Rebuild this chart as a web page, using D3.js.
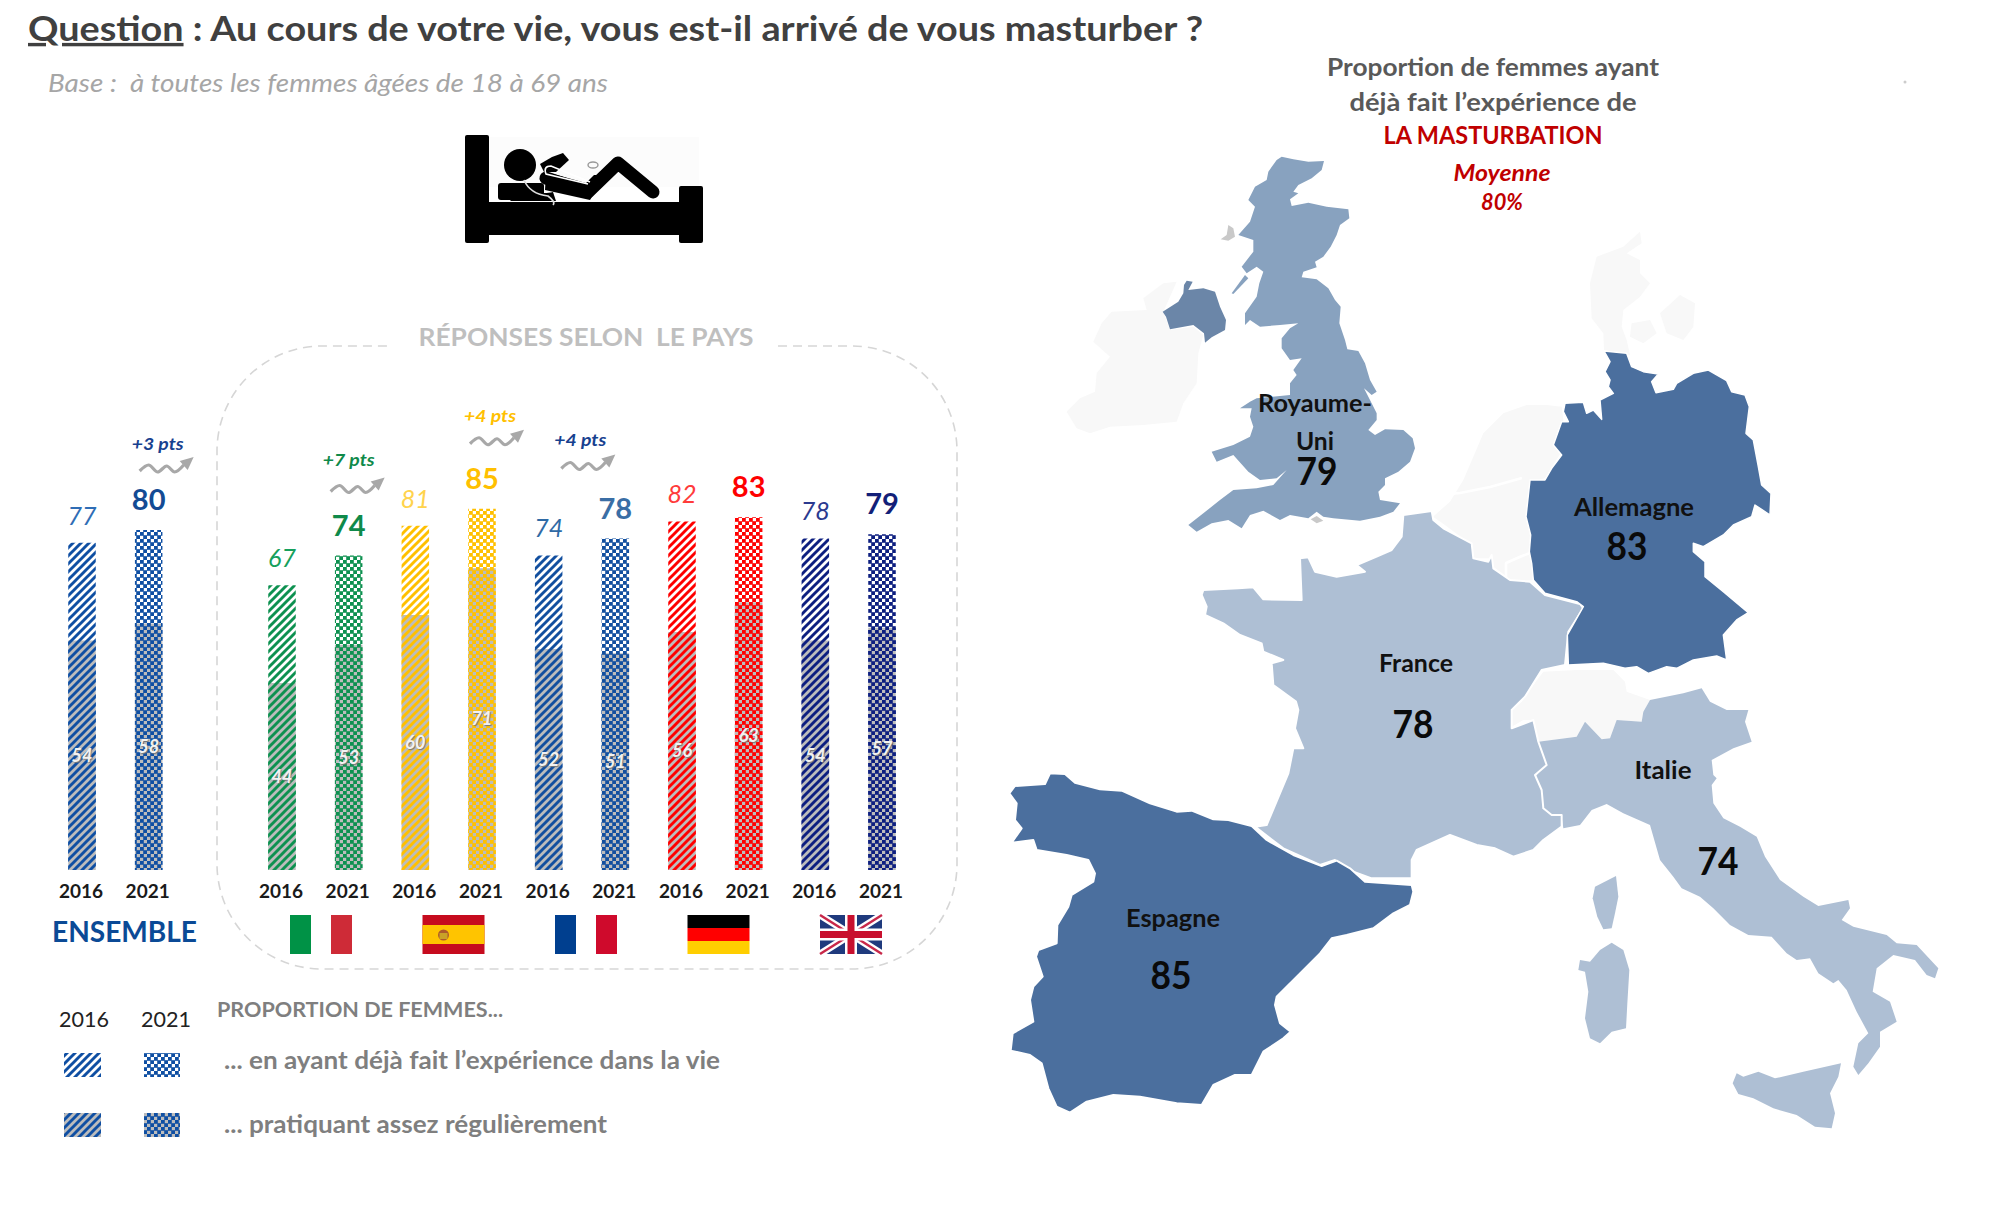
<!DOCTYPE html>
<html lang="fr">
<head>
<meta charset="utf-8">
<title>Masturbation féminine en Europe</title>
<script src="https://cdn.jsdelivr.net/npm/d3@7/dist/d3.min.js"></script>
<style>
html,body{margin:0;padding:0;background:#fff;}
svg{display:block;}
text{font-family:Lato,"Open Sans",sans-serif;white-space:pre;}
</style>
</head>
<body>
<svg id="c" width="1994" height="1208"></svg>
<script>
// ---------- data ----------
const groups      = ["ENSEMBLE","Italie","Espagne","France","Allemagne","Royaume-Uni"];
const years       = ["2016","2021"];
const everDone2016 = [77,67,81,74,82,78];
const everDone2021 = [80,74,85,78,83,79];
const regular2016  = [54,44,60,52,56,54];
const regular2021  = [58,53,71,51,63,57];
const deltaLabels  = ["+3 pts","+7 pts","+4 pts","+4 pts",null,null];
const mapCountries = ["Royaume-Uni","Allemagne","France","Espagne","Italie"];
const mapValues    = [79,83,78,85,74];

// ---------- styles and placement ----------
const barColors   = ["#0f4fa3","#0d9150","#ffc000","#124f9f","#ff0000","#0d1f80"];
const label2016   = ["#2f6db5","#16a05c","#ffd34d","#2f6aa5","#ff3b3b","#2b3a8f"];
const label2021   = ["#134b94","#0f8a4a","#ffc000","#3a6ea5","#ff0000","#131f78"];
const deltaColors = ["#17418f","#0f8a4a","#ffc000","#17418f",null,null];
const deltaPlace  = [[9,-86,-9,-73],[0,-95,-18,-78],[8,-93,-12,-79],[-35,-98,-54,-84],null,null];
const MAP_LIGHT="#aebfd4", MAP_MID="#88a2bf", MAP_DARK="#4b6f9e", MAP_NONE="#f8f8f8";

const svg = d3.select("#c");
const defs = svg.append("defs");

// ---------- scales ----------
const slots = ["ENSEMBLE|2016","ENSEMBLE|2021","gap"];
groups.slice(1).forEach(g=>years.forEach(y=>slots.push(g+"|"+y)));
const x = d3.scalePoint().domain(slots).range([82,882]);
const y = d3.scaleLinear().domain([0,100]).range([870,445]);
const flagX = d3.scalePoint().domain(groups.slice(1)).range([321,851]);
const barW = 27.5;
const mapFill = d3.scaleThreshold().domain([79,83]).range([MAP_LIGHT,MAP_MID,MAP_DARK]);

// ---------- patterns ----------
function makePattern(id,color,bg,kind){
  const s = kind==="2016"?8:7;
  const p = defs.append("pattern").attr("id",id).attr("patternUnits","userSpaceOnUse").attr("width",s).attr("height",s);
  p.append("rect").attr("width",s).attr("height",s).attr("fill",bg);
  if(kind==="2016"){
    p.append("path").attr("d","M-2,2 L2,-2 M-2,10 L10,-2 M6,10 L10,6").attr("stroke",color).attr("stroke-width",2.9);
  } else {
    p.append("rect").attr("x",-.3).attr("y",-.3).attr("width",4.1).attr("height",4.1).attr("fill",color);
    p.append("rect").attr("x",3.2).attr("y",3.2).attr("width",4.1).attr("height",4.1).attr("fill",color);
  }
}
barColors.forEach((c,i)=>years.forEach(k=>{
  makePattern(`p${i}${k}w`,c,"#ffffff",k);
  makePattern(`p${i}${k}g`,c,"#bcbcbc",k);
}));

// ---------- header ----------
function txt(t,xp,yp,o={}){
  const e = svg.append("text").attr("x",xp).attr("y",yp).attr("dy",".35em")
    .attr("text-anchor",o.anchor||"middle").attr("font-size",o.size||20)
    .attr("font-weight",o.weight||400).attr("font-style",o.italic?"italic":"normal")
    .attr("fill",o.fill||"#000").text(t);
  if(o.len){e.attr("textLength",o.len).attr("lengthAdjust","spacingAndGlyphs");}
  if(o.shadow){e.style("text-shadow",o.shadow);}
  return e;
}
const title = svg.append("text").attr("x",28).attr("y",29).attr("dy",".35em").attr("font-size",34).attr("font-weight",700).attr("fill","#404040")
  .attr("textLength",1175).attr("lengthAdjust","spacingAndGlyphs");
title.append("tspan").attr("text-decoration","underline").text("Question");
title.append("tspan").text(" : Au cours de votre vie, vous est-il arrivé de vous masturber ?");
txt("Base :  à toutes les femmes âgées de 18 à 69 ans",48,83,{anchor:"start",size:26,italic:true,fill:"#a6a6a6",len:560});

// ---------- bed pictogram ----------
const bed = svg.append("g");
bed.append("rect").attr("x",489).attr("y",137).attr("width",210).attr("height",50).attr("fill","#fcfcfc");
bed.append("rect").attr("x",465).attr("y",135).attr("width",24).attr("height",108).attr("rx",2);
bed.append("rect").attr("x",679).attr("y",186).attr("width",24).attr("height",57).attr("rx",2);
bed.append("rect").attr("x",485).attr("y",202).attr("width",200).attr("height",33);
bed.append("circle").attr("cx",520).attr("cy",165).attr("r",16);
bed.append("rect").attr("x",498).attr("y",183).attr("width",46).attr("height",17).attr("rx",3);
bed.append("path").attr("d","M546,178 L588,192 L618,163 L653,192").attr("fill","none").attr("stroke","#000").attr("stroke-width",13).attr("stroke-linecap","round").attr("stroke-linejoin","round");
bed.append("path").attr("d","M524,186 C532,186 534,196 553,192 L556,201 L510,201 Z").attr("fill","#000");
bed.append("path").attr("d","M546,172 L586,183 L594,175 L606,175 L590,200 L545,190 Z").attr("fill","#000");
bed.append("path").attr("d","M540,164 L552,157 L563,153 L569,160 L556,172 L544,172 Z").attr("fill","#000");
bed.append("path").attr("d","M590,182 L551,166 Q543,166 546,174 L588,184").attr("fill","none").attr("stroke","#fff").attr("stroke-width",1.6);
bed.append("path").attr("d","M524,180 Q530,194 548,196 Q556,202 553,205").attr("fill","none").attr("stroke","#ddd").attr("stroke-width",1.6);
bed.append("ellipse").attr("cx",593).attr("cy",165).attr("rx",5).attr("ry",3).attr("fill","none").attr("stroke","#999").attr("stroke-width",1.4);

// ---------- dashed frame ----------
const fr = d3.path(); const L=217,R=957,T=346,B=969,Ra=105;
fr.moveTo(778,T); fr.lineTo(R-Ra,T); fr.arcTo(R,T,R,T+Ra,Ra); fr.lineTo(R,B-Ra); fr.arcTo(R,B,R-Ra,B,Ra);
fr.lineTo(L+Ra,B); fr.arcTo(L,B,L,B-Ra,Ra); fr.lineTo(L,T+Ra); fr.arcTo(L,T,L+Ra,T,Ra); fr.lineTo(390,T);
svg.append("path").attr("d",fr.toString()).attr("fill","none").attr("stroke","#d6d6d6").attr("stroke-width",1.6).attr("stroke-dasharray","9 6");
txt("RÉPONSES SELON  LE PAYS",586,337,{size:25,weight:700,fill:"#bfbfbf",len:335});

// ---------- bars ----------
const rows = [];
groups.forEach((g,i)=>{
  rows.push({g,i,year:"2016",ever:everDone2016[i],reg:regular2016[i]});
  rows.push({g,i,year:"2021",ever:everDone2021[i],reg:regular2021[i]});
});
const bars = svg.append("g").selectAll("g").data(rows).join("g");
bars.append("rect").attr("x",d=>x(d.g+"|"+d.year)-barW/2).attr("width",barW)
  .attr("y",d=>y(d.ever)).attr("height",d=>y(0)-y(d.ever))
  .attr("fill",d=>`url(#p${d.i}${d.year}w)`);
bars.append("rect").attr("x",d=>x(d.g+"|"+d.year)-barW/2).attr("width",barW)
  .attr("y",d=>y(d.reg)).attr("height",d=>y(0)-y(d.reg))
  .attr("fill",d=>`url(#p${d.i}${d.year}g)`);
rows.forEach(d=>{
  const cx = x(d.g+"|"+d.year);
  if(d.year==="2016") txt(d.ever,cx,y(d.ever)-27,{size:25,italic:true,fill:label2016[d.i]});
  else txt(d.ever,cx,y(d.ever)-30,{size:29,weight:700,fill:label2021[d.i]});
  txt(d.reg,cx,(y(0)+y(d.reg))/2,{size:18,weight:700,italic:true,fill:"#f2f2f2",shadow:"1px 1px 1px #777"});
  txt(d.year,cx-1,891,{size:19,weight:700,fill:"#1a1a1a"});
});

// ---------- growth arrows ----------
const wave = d3.line().curve(d3.curveMonotoneX);
const waveShape = [[0,14],[9,8],[18,15],[27,9],[35,15],[44,8]];
groups.forEach((g,i)=>{
  if(!deltaLabels[i]) return;
  const [dx,dy,ax,ay] = deltaPlace[i];
  const cx = x(g+"|2021"), top = y(everDone2021[i]);
  txt(deltaLabels[i],cx+dx,top+dy,{size:17,weight:700,italic:true,fill:deltaColors[i],len:52});
  const a = svg.append("g").attr("transform",`translate(${cx+ax},${top+ay})`);
  a.append("path").attr("d",wave(waveShape)).attr("fill","none").attr("stroke","#a8a8a8").attr("stroke-width",3.2);
  a.append("path").attr("d","M40,4 L54,0 L48,13 Z").attr("fill","#a8a8a8");
});

// ---------- flags ----------
const flagW=62, flagH=39, flagY=915;
function flag(name,draw){
  const g = svg.append("g").attr("transform",`translate(${flagX(name)-flagW/2},${flagY})`);
  draw(g);
}
const r=(g,a,b,w,h,f)=>g.append("rect").attr("x",a).attr("y",b).attr("width",w).attr("height",h).attr("fill",f);
flag("Italie",g=>{r(g,0,0,21,flagH,"#009246");r(g,41,0,21,flagH,"#ce2b37");});
flag("Espagne",g=>{r(g,0,0,flagW,flagH,"#c60b1e");r(g,0,10,flagW,19,"#ffc400");
  g.append("circle").attr("cx",21).attr("cy",20).attr("r",5.5).attr("fill","#ad5a2a");
  r(g,17,18,8,6,"#c9a227");});
flag("France",g=>{r(g,0,0,21,flagH,"#003f8f");r(g,41,0,21,flagH,"#cf0a2c");});
flag("Allemagne",g=>{r(g,0,0,flagW,13,"#000");r(g,0,13,flagW,13,"#ff0000");r(g,0,26,flagW,13,"#ffce00");});
flag("Royaume-Uni",g=>{
  r(g,0,0,flagW,flagH,"#1f3a7d");
  const diag=`M0,0 L${flagW},${flagH} M${flagW},0 L0,${flagH}`;
  g.append("path").attr("d",diag).attr("stroke","#fff").attr("stroke-width",7);
  g.append("path").attr("d",diag).attr("stroke","#c8284a").attr("stroke-width",2.5);
  r(g,flagW/2-6,0,12,flagH,"#fff");r(g,0,flagH/2-6,flagW,12,"#fff");
  r(g,flagW/2-3.5,0,7,flagH,"#c8102e");r(g,0,flagH/2-3.5,flagW,7,"#c8102e");
});
txt("ENSEMBLE",124.5,932,{size:29,weight:700,fill:"#0b4a96",len:145});

// ---------- legend ----------
txt("2016",84,1019,{size:22,fill:"#222",len:50});
txt("2021",166,1019,{size:22,fill:"#222",len:50});
txt("PROPORTION DE FEMMES...",217,1010,{anchor:"start",size:21,weight:700,fill:"#7f7f7f",len:286});
txt("... en ayant déjà fait l’expérience dans la vie",224,1061,{anchor:"start",size:24,weight:700,fill:"#7f7f7f",len:496});
txt("... pratiquant assez régulièrement",224,1125,{anchor:"start",size:24,weight:700,fill:"#7f7f7f",len:383});
[["w",1053],["g",1113]].forEach(([k,ty])=>{
  svg.append("rect").attr("x",64).attr("y",ty).attr("width",37).attr("height",24).attr("fill",`url(#p02016${k})`);
  svg.append("rect").attr("x",144).attr("y",ty).attr("width",36).attr("height",24).attr("fill",`url(#p02021${k})`);
});

// ---------- map heading ----------
txt("Proportion de femmes ayant",1493,67,{size:25,weight:700,fill:"#595959",len:332});
txt("déjà fait l’expérience de",1493,102,{size:25,weight:700,fill:"#595959",len:287});
txt("LA MASTURBATION",1493,135,{size:25,weight:700,fill:"#c00000",len:219});
txt("Moyenne",1502,173,{size:22,weight:700,italic:true,fill:"#c00000",len:97});
txt("80%",1502,202,{size:22,weight:700,italic:true,fill:"#c00000",len:42});
svg.append("circle").attr("cx",1905).attr("cy",82).attr("r",1.5).attr("fill","#ccc");

const crops = {uk:[1060,150],de:[1440,230],fr:[1190,500],es:[1000,760],it:[1510,670]};
const shape = (crop,pts)=>{
  const sx = d3.scaleLinear().domain([0,3]).range([crops[crop][0],crops[crop][0]+1]);
  const sy = d3.scaleLinear().domain([0,3]).range([crops[crop][1],crops[crop][1]+1]);
  return d3.line().x(p=>sx(p[0])).y(p=>sy(p[1])).curve(d3.curveLinearClosed)(pts);
};
const ukMain=[[665,20],[700,28],[745,35],[792,33],[785,60],[755,85],[715,105],[700,125],[715,130],[690,148],[695,168],[745,158],[800,170],[865,178],[868,205],[840,225],[830,255],[812,290],[790,320],[765,335],[770,352],[730,365],[725,382],[770,388],[805,415],[825,450],[842,470],[838,520],[855,570],[862,598],[895,603],[915,640],[930,690],[950,725],[935,735],[912,715],[935,760],[950,790],[950,810],[925,840],[945,855],[975,838],[1030,840],[1058,865],[1065,895],[1050,935],[1015,965],[975,985],[975,1005],[955,1025],[960,1050],[1020,1060],[1000,1085],[960,1100],[900,1112],[820,1105],[790,1100],[770,1085],[745,1105],[690,1095],[660,1110],[610,1082],[570,1095],[545,1135],[505,1110],[455,1120],[410,1145],[385,1125],[430,1090],[480,1050],[520,1020],[590,1015],[640,1005],[680,960],[650,985],[600,990],[565,965],[520,915],[470,935],[455,905],[520,885],[570,860],[580,830],[570,800],[575,775],[540,775],[570,755],[590,745],[690,735],[690,700],[710,675],[700,660],[725,625],[690,630],[665,595],[665,565],[690,535],[715,520],[660,525],[600,530],[570,510],[555,525],[555,490],[590,440],[598,400],[610,365],[590,350],[560,370],[545,350],[580,305],[580,270],[535,255],[570,215],[585,170],[565,150],[585,110],[620,90],[625,65],[650,30]];
const kintyre=[[515,430],[555,375],[565,385],[520,432]];
const northIreland=[[380,392],[398,395],[385,420],[430,415],[465,425],[480,470],[498,510],[495,540],[455,562],[435,578],[432,550],[400,525],[330,538],[318,500],[308,485],[355,455],[370,430],[372,405]];
const ireland=[[100,575],[125,520],[155,485],[260,480],[250,445],[310,400],[350,395],[310,485],[330,540],[400,530],[430,555],[415,610],[410,700],[370,760],[350,815],[250,825],[150,830],[90,850],[50,835],[20,785],[60,745],[105,725],[110,670],[150,620]];
const hebrides=[[505,225],[520,235],[525,260],[505,272],[482,268],[500,255]];
const wight=[[752,1108],[770,1098],[790,1112],[770,1120]];
const germany=[[492,363],[560,370],[575,410],[610,425],[655,432],[635,455],[648,488],[700,478],[710,460],[760,430],[805,420],[860,452],[875,485],[915,495],[928,530],[918,610],[940,630],[955,710],[965,765],[993,790],[990,855],[945,825],[935,860],[880,885],[850,915],[790,950],[760,940],[760,965],[795,995],[795,1040],[850,1085],[925,1148],[890,1170],[850,1215],[860,1290],[830,1278],[760,1290],[710,1315],[680,1310],[625,1330],[590,1310],[555,1315],[490,1300],[385,1305],[382,1215],[430,1130],[410,1115],[315,1090],[280,1050],[275,1000],[268,965],[272,915],[258,860],[270,750],[315,750],[335,715],[365,675],[340,645],[365,575],[385,575],[370,545],[375,520],[430,517],[440,550],[460,540],[485,568],[480,510],[520,490],[505,470],[510,450],[495,425],[510,395]];
const denmark=[[600,5],[605,40],[560,70],[600,90],[600,130],[630,160],[600,200],[550,240],[545,290],[560,330],[570,375],[492,360],[490,310],[455,265],[450,160],[470,80],[550,50]];
const zealand=[[720,195],[765,220],[760,290],[730,330],[680,310],[660,250]];
const funen=[[575,280],[630,270],[650,310],[610,340],[570,320]];
const benelux=[[-21,860],[30,815],[70,750],[100,680],[130,610],[190,550],[260,525],[320,525],[365,530],[370,570],[345,640],[365,665],[330,720],[315,745],[270,755],[258,860],[272,915],[268,965],[275,1000],[280,1050],[220,1055],[160,1010],[150,985],[95,985],[95,945],[15,885]];
const france=[[640,45],[725,33],[730,60],[760,85],[845,130],[850,175],[895,185],[905,165],[910,205],[960,240],[1020,245],[1065,285],[1170,312],[1180,325],[1135,395],[1125,495],[1055,510],[1005,590],[965,630],[965,685],[1030,660],[1045,725],[1070,795],[1035,825],[1055,870],[1060,925],[1085,945],[1115,945],[1115,980],[1060,1020],[1030,1050],[970,1070],[915,1045],[860,1035],[780,1005],[735,1025],[680,1050],[665,1080],[665,1135],[545,1135],[490,1115],[435,1080],[390,1095],[280,1045],[195,980],[230,975],[295,820],[310,745],[340,745],[315,685],[325,630],[318,605],[250,555],[245,490],[280,480],[220,455],[215,430],[150,405],[100,370],[45,345],[50,320],[35,285],[40,270],[145,265],[190,262],[220,298],[335,300],[330,175],[355,172],[375,215],[440,230],[525,215],[500,195],[560,170],[605,150],[635,110]];
const spain=[[150,40],[195,42],[225,68],[300,88],[365,92],[450,130],[530,155],[575,152],[640,178],[685,180],[755,198],[800,240],[880,285],[965,318],[1010,302],[1050,325],[1095,365],[1235,375],[1240,395],[1230,435],[1180,460],[1120,505],[1040,525],[995,535],[960,580],[900,640],[830,710],[825,735],[840,790],[872,815],[850,835],[790,875],[755,945],[705,945],[640,975],[605,1035],[530,1030],[420,1010],[340,1005],[260,1025],[210,1058],[170,1040],[145,985],[125,910],[90,885],[32,872],[38,820],[100,785],[90,720],[100,680],[128,650],[108,590],[115,570],[170,550],[172,495],[205,440],[215,405],[280,365],[285,340],[265,300],[200,285],[110,270],[100,240],[35,248],[65,205],[45,180],[50,130],[28,100],[45,78],[135,72]];
const italy=[[575,55],[600,95],[650,120],[715,120],[705,155],[725,215],[670,235],[605,270],[610,315],[620,325],[605,345],[610,400],[640,445],[690,470],[740,500],[765,560],[810,630],[880,680],[925,708],[1015,690],[1020,715],[995,750],[1030,770],[1130,795],[1160,820],[1220,825],[1285,895],[1275,925],[1250,915],[1215,870],[1150,855],[1100,895],[1088,965],[1140,995],[1160,1055],[1110,1085],[1110,1130],[1075,1180],[1045,1215],[1030,1190],[1045,1120],[1075,1090],[1040,1025],[1010,960],[985,930],[970,940],[925,910],[900,865],[860,870],[830,850],[785,800],[715,795],[660,765],[610,715],[570,680],[515,655],[490,620],[450,570],[420,465],[340,430],[290,402],[245,420],[210,465],[160,475],[155,440],[105,430],[90,370],[72,325],[105,285],[85,215],[200,200],[225,155],[275,208],[300,205],[320,150],[395,155],[400,125],[420,90],[520,70]];
const corsica=[[318,618],[325,680],[315,730],[305,775],[280,778],[262,740],[248,685],[255,650]];
const sardinia=[[305,818],[340,840],[358,900],[352,1000],[348,1075],[305,1085],[270,1120],[240,1105],[225,1045],[235,965],[225,905],[205,900],[210,870],[240,875],[270,840]];
const sicily=[[993,1180],[985,1220],[960,1270],[975,1330],[965,1375],[915,1370],[860,1335],[790,1315],[730,1285],[685,1272],[668,1240],[680,1210],[700,1220],[745,1205],[795,1225],[880,1205]];
const switzerland=[[5,170],[5,120],[35,95],[70,45],[100,5],[200,0],[310,0],[345,35],[350,65],[420,90],[400,125],[395,155],[320,150],[300,205],[275,208],[225,155],[200,200],[85,215],[70,150],[40,150]];

const mapG = svg.append("g").attr("stroke-linejoin","round");
const draw = (crop,pts,fill,stroke,sw)=>mapG.append("path").attr("d",shape(crop,pts)).attr("fill",fill).attr("stroke",stroke||"none").attr("stroke-width",sw||0);
draw("uk",ireland,MAP_NONE);
[denmark,zealand,funen].forEach(p=>draw("de",p,MAP_NONE));
draw("de",benelux,MAP_NONE);
mapG.append("path").attr("d",d3.line()([[1440,495],[1460,493],[1490,487],[1522,478]])).attr("fill","none").attr("stroke","#fff").attr("stroke-width",2.5);
mapG.append("path").attr("d",d3.line()([[1506,578],[1506,563],[1522,556],[1530,553]])).attr("fill","none").attr("stroke","#fff").attr("stroke-width",2.5);
draw("it",switzerland,MAP_NONE);
const valueOf = n=>mapValues[mapCountries.indexOf(n)];
draw("uk",northIreland,"#6b86a8");
draw("uk",hebrides,"#c9c9c9");
draw("uk",wight,"#c9c9c9");
draw("uk",ukMain,mapFill(valueOf("Royaume-Uni")));
draw("uk",kintyre,mapFill(valueOf("Royaume-Uni")));
draw("it",italy,mapFill(valueOf("Italie")));
[corsica,sardinia,sicily].forEach(p=>draw("it",p,mapFill(valueOf("Italie"))));
draw("fr",france,mapFill(valueOf("France")),"#fff",2);
draw("de",germany,mapFill(valueOf("Allemagne")),"#fff",1.5);
draw("es",spain,mapFill(valueOf("Espagne")),"#fff",2);

// ---------- map labels ----------
const nameSpots = {"Allemagne":[[1634,507]],"France":[[1416,663]],"Espagne":[[1173,918]],"Italie":[[1663,770]]};
const valueSpots = {"Royaume-Uni":[1317,472],"Allemagne":[1627,547],"France":[1413,725],"Espagne":[1171,976],"Italie":[1718,862]};
const nameLen = {"Allemagne":120,"France":74,"Espagne":94,"Italie":57};
txt("Royaume-",1315,403,{size:25,weight:700,fill:"#111",len:114});
txt("Uni",1315,441,{size:25,weight:700,fill:"#111",len:38});
mapCountries.forEach((n,i)=>{
  if(nameSpots[n]) txt(n,nameSpots[n][0][0],nameSpots[n][0][1],{size:25,weight:700,fill:"#111",len:nameLen[n]});
  txt(mapValues[i],valueSpots[n][0],valueSpots[n][1],{size:38,weight:700,fill:"#0a0a0a",len:41});
});
</script>
</body>
</html>
